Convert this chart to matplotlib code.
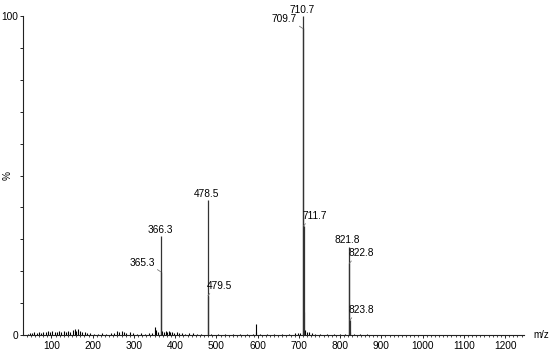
import matplotlib
matplotlib.use('Agg')
import matplotlib.pyplot as plt
from matplotlib.ticker import MultipleLocator

plt.rcParams['font.family'] = ['Liberation Sans', 'DejaVu Sans']

# labelled peaks (m/z, relative intensity %)
peak_mz = [365.3, 366.3, 478.5, 479.5, 709.7, 710.7, 711.7, 821.8, 822.8, 823.8]
peak_int = [19.8, 30.9, 42.3, 12.3, 96.1, 100.0, 34.2, 27.7, 22.5, 4.7]
# label placement: 'top' = centred above, 'left' / 'right' = beside with leader
peak_pos = ['left', 'top', 'top', 'right', 'left', 'top', 'right', 'top', 'right', 'right']

# unlabelled minor peaks / baseline noise
noise_mz = [42, 47, 53, 58, 64, 69, 75, 80, 86, 91, 97, 102, 108, 113, 119, 124,
            130, 135, 141, 146, 152, 156, 160, 165, 170, 175, 181, 187, 194,
            203, 212, 222, 233, 244, 252, 259, 264, 270, 276, 282, 290, 298,
            307, 316, 326, 336, 343, 350, 353, 358, 367.3, 372, 377, 380, 384,
            388, 393, 398, 404, 410, 417, 425, 434, 443, 452, 462, 488, 505,
            522, 540, 557, 575, 588, 595, 597, 606, 622, 640, 658, 676, 690,
            697, 703, 712.7, 713.7, 719, 725, 732, 740, 752, 768, 785, 800,
            812, 824.8, 834, 848, 866]
noise_int = [0.4, 0.6, 0.5, 0.8, 0.6, 0.9, 0.7, 1.0, 0.8, 1.1, 0.9, 1.2, 0.8, 1.0,
             1.1, 0.9, 1.2, 0.8, 1.3, 1.0, 1.6, 2.0, 1.4, 1.8, 1.2, 1.0, 0.9, 0.7,
             0.5, 0.4, 0.3, 0.5, 0.4, 0.6, 0.7, 1.4, 0.8, 1.2, 0.9, 0.6, 0.8, 0.5,
             0.4, 0.5, 0.4, 0.5, 0.7, 2.4, 1.5, 0.8, 1.2, 1.0, 1.1, 0.9, 1.3,
             0.8, 1.0, 0.7, 0.8, 0.6, 0.5, 0.4, 0.5, 0.6, 0.4, 0.3, 0.3, 0.4,
             0.3, 0.4, 0.3, 0.3, 0.4, 3.4, 1.0, 0.3, 0.3, 0.2, 0.3, 0.3, 0.5,
             0.6, 0.7, 7.3, 1.5, 0.8, 1.0, 0.6, 0.4, 0.3, 0.3, 0.2, 0.3,
             0.3, 1.0, 0.3, 0.2, 0.2]

fig = plt.figure(figsize=(5.5, 3.54), dpi=100)
ax = fig.add_axes([23 / 550, 1 - 335 / 354, 501 / 550, 319 / 354])

ax.vlines(noise_mz, 0, noise_int, color='black', lw=0.8)
ax.vlines(peak_mz, 0, peak_int, color='#333333', lw=0.9)

fs = 7.3
lead = dict(arrowstyle='-', color='#777777', lw=0.6, shrinkA=0, shrinkB=0)
for mz, h, pos in zip(peak_mz, peak_int, peak_pos):
    lab = f'{mz:.1f}'
    if pos == 'top':
        ax.annotate(lab, (mz, h), xytext=(-1, 4.5), textcoords='offset points',
                    ha='center', va='center', fontsize=fs, annotation_clip=False)
    elif pos == 'left':
        ax.annotate(lab, (mz, h), xytext=(-4.5, 6.5), textcoords='offset points',
                    ha='right', va='center', fontsize=fs, annotation_clip=False,
                    arrowprops=dict(lead, relpos=(1.0, 0.0)))
    else:
        ax.annotate(lab, (mz, h), xytext=(-0.7, 7.2), textcoords='offset points',
                    ha='left', va='center', fontsize=fs, annotation_clip=False,
                    arrowprops=dict(lead, relpos=(0.2, 0.0)))

ax.set_xlim(31, 1246)
ax.set_ylim(0, 100)
ax.xaxis.set_major_locator(MultipleLocator(100))
ax.xaxis.set_minor_locator(MultipleLocator(10))
ax.set_xticks(range(100, 1300, 100))
ax.set_yticks([0, 100])
ax.yaxis.set_minor_locator(MultipleLocator(10))

for s in ['top', 'right']:
    ax.spines[s].set_visible(False)
for s in ['left', 'bottom']:
    ax.spines[s].set_linewidth(0.8)
    ax.spines[s].set_color('#222222')

ax.tick_params(axis='x', which='major', length=2.5, width=0.6, pad=2, labelsize=fs)
ax.tick_params(axis='x', which='minor', length=1.5, width=0.5)
ax.tick_params(axis='y', which='both', length=2.2, width=0.6, pad=1.2, labelsize=fs)

ax.set_ylabel('%', fontsize=fs, rotation=90)
ax.yaxis.set_label_coords(-0.02, 0.5)
fig.text(0.998, 1 - 335 / 354, 'm/z', fontsize=7, ha='right', va='center')

fig.savefig('out.png', dpi=100)
